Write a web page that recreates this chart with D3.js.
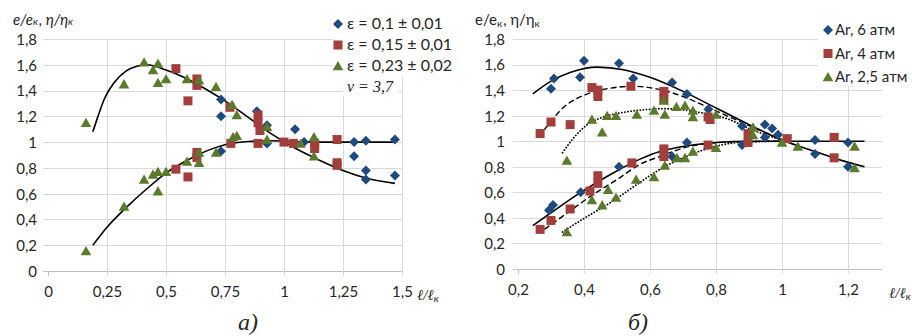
<!DOCTYPE html>
<html><head><meta charset="utf-8">
<script src="https://cdn.jsdelivr.net/npm/d3@7"></script>
<style>
body{margin:0;background:#fff}
svg{display:block}
text{font-family:Lato,"Open Sans","Liberation Sans",sans-serif;fill:#262626}
</style>
</head><body>
<svg id="c" width="912" height="336"></svg>
<script>
// ---------- tick labels ----------
const yTicks = [0,0.2,0.4,0.6,0.8,1,1.2,1.4,1.6,1.8];
const yLabels = ["0","0,2","0,4","0,6","0,8","1","1,2","1,4","1,6","1,8"];
const leftXTicks = [0,0.25,0.5,0.75,1,1.25,1.5];
const leftXLabels = ["0","0,25","0,5","0,75","1","1,25","1,5"];
const rightXTicks = [0.2,0.4,0.6,0.8,1,1.2];
const rightXLabels = ["0,2","0,4","0,6","0,8","1","1,2"];

// ---------- left chart (a) series ----------
const leftNames = ["ε = 0,1 ± 0,01","ε = 0,15 ± 0,01","ε = 0,23 ± 0,02"];
const leftEps010 = [[0.733,1.33],[0.733,1.20],[0.885,1.24],[0.928,1.13],[0.928,0.99],[1.047,1.10],[1.085,1.0],
  [1.297,1.0],[1.347,1.01],[1.297,0.89],[1.347,0.78],[1.347,0.71],[1.47,1.02],[1.47,0.74],[0.733,0.93]];
const leftEps015 = [[0.542,1.57],[0.631,1.49],[0.631,1.44],[0.593,1.32],[0.771,1.27],[0.89,1.21],[0.89,1.15],
  [0.898,1.09],[0.89,0.99],[0.775,0.99],[1.0,1.0],[1.04,0.99],[1.13,0.99],[1.13,0.95],[1.225,1.02],
  [1.225,0.84],[1.225,0.82],[0.631,0.92],[0.631,0.88],[0.542,0.79],[0.593,0.73]];
const leftEps023 = [[0.161,1.15],[0.161,0.155],[0.322,1.45],[0.322,0.50],[0.407,1.62],[0.407,0.71],[0.445,1.56],
  [0.445,0.75],[0.466,1.61],[0.466,1.46],[0.466,0.77],[0.466,0.62],[0.5,1.49],[0.5,0.77],[0.589,1.49],
  [0.589,0.85],[0.64,1.48],[0.64,0.92],[0.64,0.84],[0.712,1.43],[0.712,0.92],[0.78,1.29],[0.784,1.04],
  [0.80,1.21],[0.80,1.05],[0.928,1.12],[0.928,1.02],[1.07,0.99],[1.127,1.04],[1.127,0.89]];
// trend curves
const leftTrendUpper = [[0.19,1.08],[0.21,1.19],[0.24,1.34],[0.28,1.46],[0.33,1.55],[0.38,1.59],[0.42,1.60],
  [0.50,1.56],[0.58,1.50],[0.66,1.42],[0.75,1.32],[0.85,1.19],[0.95,1.06],[1.05,0.95],[1.15,0.86],[1.25,0.78],
  [1.35,0.72],[1.47,0.68]];
const leftTrendLower = [[0.19,0.20],[0.25,0.34],[0.33,0.49],[0.42,0.64],[0.50,0.76],[0.58,0.85],[0.67,0.93],
  [0.75,0.98],[0.85,1.005],[0.95,1.01],[1.1,1.0],[1.3,1.0],[1.47,1.0]];

// ---------- right chart (b) series ----------
const rightNames = ["Ar, 6 атм","Ar, 4 атм","Ar, 2,5 атм"];
const rightAr6 = [[0.30,1.41],[0.309,1.49],[0.40,1.63],[0.388,1.50],[0.506,1.61],[0.549,1.49],[0.667,1.46],
  [0.712,1.37],[0.777,1.25],[0.306,0.50],[0.294,0.46],[0.39,0.60],[0.506,0.80],[0.712,0.99],[0.879,0.97],
  [0.879,1.12],[0.948,1.13],[0.97,1.10],[0.948,1.03],[0.988,1.05],[1.1,1.01],[1.1,0.90],[1.2,0.99],[1.2,0.80],[0.667,0.88]];
const rightAr4 = [[0.267,1.06],[0.30,1.15],[0.358,1.13],[0.424,1.42],[0.442,1.40],[0.442,1.35],[0.542,1.43],
  [0.642,1.39],[0.642,1.33],[0.776,1.19],[0.782,1.17],[0.897,1.06],[0.897,0.99],[1.016,1.02],[1.158,1.03],
  [1.158,0.87],[0.642,0.94],[0.642,0.88],[0.776,0.97],[0.545,0.83],[0.442,0.73],[0.442,0.67],[0.418,0.61],
  [0.358,0.47],[0.30,0.38],[0.267,0.31]];
const rightAr25 = [[0.348,0.85],[0.424,1.17],[0.455,1.07],[0.47,1.20],[0.497,1.20],[0.56,1.21],[0.612,1.24],
  [0.642,1.32],[0.645,1.21],[0.68,1.27],[0.706,1.28],[0.73,1.24],[0.73,1.19],[0.80,1.21],[0.912,1.11],
  [0.912,1.05],[1.0,0.99],[1.048,0.96],[1.22,0.96],[1.22,0.79],[0.348,0.29],[0.424,0.54],[0.455,0.50],
  [0.473,0.62],[0.497,0.56],[0.558,0.70],[0.612,0.72],[0.645,0.81],[0.682,0.87],[0.706,0.87],[0.73,0.92],[0.80,0.95]];
const rightTrend6Upper = [[0.245,1.37],[0.30,1.47],[0.36,1.54],[0.44,1.58],[0.52,1.56],[0.60,1.50],[0.70,1.39],
  [0.80,1.26],[0.90,1.13],[1.0,1.01],[1.1,0.92],[1.18,0.85],[1.25,0.80]];
const rightTrend6Lower = [[0.245,0.34],[0.30,0.44],[0.39,0.60],[0.48,0.74],[0.57,0.86],[0.63,0.92],[0.69,0.955],
  [0.80,0.99],[0.9,1.0],[1.0,1.0],[1.25,1.0]];
const rightTrend4Upper = [[0.28,1.09],[0.34,1.27],[0.41,1.37],[0.48,1.415],[0.55,1.43],[0.62,1.41],[0.70,1.35],
  [0.78,1.26],[0.85,1.18],[0.92,1.10],[1.0,1.01]];
const rightTrend4Lower = [[0.28,0.31],[0.35,0.44],[0.42,0.57],[0.50,0.70],[0.57,0.82],[0.63,0.88],[0.72,0.96],
  [0.85,0.995],[1.0,1.0]];
const rightTrend25Upper = [[0.335,0.91],[0.37,1.03],[0.41,1.13],[0.46,1.19],[0.53,1.23],[0.60,1.25],[0.64,1.255],
  [0.68,1.25],[0.76,1.22],[0.84,1.17],[0.90,1.10],[0.95,1.05],[1.0,1.01]];
const rightTrend25Lower = [[0.335,0.29],[0.39,0.38],[0.48,0.52],[0.56,0.66],[0.63,0.78],[0.70,0.87],[0.76,0.93],
  [0.87,0.99],[1.0,1.0]];

// ---------- styles ----------
const colors = ["#1f4a7e","#a23f3c","#5b7a2b"];
const shapes = ["diamond","square","triangle"];
const gridColor = "#d9d9d9";

const svg = d3.select("#c");

function marker(g, shape, color, x, y){
  if(shape==="square"){
    g.append("rect").attr("x",x-4.5).attr("y",y-4.5).attr("width",9).attr("height",9).attr("fill",color);
  } else if(shape==="diamond"){
    g.append("path").attr("d",d3.symbol(d3.symbolSquare,50)())
      .attr("transform",`translate(${x},${y}) rotate(45)`).attr("fill",color);
  } else {
    g.append("path").attr("d",`M0,-5L5.3,4.3L-5.3,4.3Z`)
      .attr("transform",`translate(${x},${y})`).attr("fill",color);
  }
}

function drawChart(cfg){
  const g = svg.append("g");
  const x = d3.scaleLinear().domain(cfg.xDomain).range(cfg.xRange);
  const y = d3.scaleLinear().domain([0,1.8]).range(cfg.yRange);
  const [x0,x1] = cfg.xRange;
  g.selectAll(".hg").data(yTicks).join("line")
    .attr("x1",x0-5).attr("x2",cfg.gridRight)
    .attr("y1",d=>Math.round(y(d))+0.5).attr("y2",d=>Math.round(y(d))+0.5)
    .attr("stroke",d=>d===0?"#bfbfbf":gridColor).attr("stroke-width",1);
  g.selectAll(".vg").data(cfg.xTicks).join("line")
    .attr("x1",d=>Math.round(x(d))+0.5).attr("x2",d=>Math.round(x(d))+0.5)
    .attr("y1",d=>d===cfg.xDomain[0]?y(0):y(1.8)).attr("y2",y(0)+5)
    .attr("stroke",d=>d===cfg.xDomain[0]?"#bfbfbf":gridColor);
  cfg.boxes.forEach(b=>g.append("rect").attr("x",b[0]).attr("y",b[1]).attr("width",b[2]).attr("height",b[3]).attr("fill","#fff"));
  const ya = d3.axisLeft(y).tickValues(yTicks).tickFormat((d,i)=>yLabels[i]).tickSize(0).tickPadding(0);
  const yg = g.append("g").attr("transform",`translate(${cfg.yLabelX},0)`).call(ya);
  yg.select(".domain").remove();
  yg.selectAll("text").attr("font-family",null).attr("font-size",null).attr("dy","0.36em")
    .style("font-size","15px").style("fill","#262626");
  const xa = d3.axisBottom(x).tickValues(cfg.xTicks).tickFormat((d,i)=>cfg.xLabels[i]).tickSize(0).tickPadding(0);
  const xg = g.append("g").attr("transform",`translate(0,${cfg.xLabelY})`).call(xa);
  xg.select(".domain").remove();
  xg.selectAll("text").attr("font-family",null).attr("font-size",null).style("font-size","15px").style("fill","#262626");
  const line = d3.line().x(d=>x(d[0])).y(d=>y(d[1])).curve(d3.curveMonotoneX);
  cfg.trends.forEach(t=>{
    g.append("path").attr("d",line(t.pts)).attr("fill","none").attr("stroke","#000")
      .attr("stroke-width",t.w||1.6).attr("stroke-dasharray",t.dash||null).attr("stroke-linecap",t.cap||"butt");
  });
  cfg.series.forEach((s,i)=>{
    s.forEach(p=>marker(g, shapes[i], colors[i], x(p[0]), y(p[1])));
  });
  return {g,x,y};
}

const L = drawChart({
  xDomain:[0,1.5], xRange:[48,402], yRange:[271,39], gridRight:402,
  xTicks:leftXTicks, xLabels:leftXLabels, yLabelX:37, xLabelY:286,
  boxes:[[333,8,120,69],[343,77,55,19]],
  series:[leftEps010,leftEps015,leftEps023],
  trends:[{pts:leftTrendUpper},{pts:leftTrendLower}]
});
const R = drawChart({
  xDomain:[0.2,1.3], xRange:[518,881], yRange:[269,39], gridRight:882,
  xTicks:rightXTicks, xLabels:rightXLabels, yLabelX:505, xLabelY:284,
  boxes:[[818,8,94,78]],
  series:[rightAr6,rightAr4,rightAr25],
  trends:[{pts:rightTrend6Upper},{pts:rightTrend6Lower},
    {pts:rightTrend4Upper,dash:"6,3",w:1.4},{pts:rightTrend4Lower,dash:"6,3",w:1.4},
    {pts:rightTrend25Upper,dash:"0.1,3",w:1.8,cap:"round"},{pts:rightTrend25Lower,dash:"0.1,3",w:1.8,cap:"round"}]
});

leftNames.forEach((n,i)=>{
  const yy = 24 + i*21;
  marker(svg, shapes[i], colors[i], 338, yy);
  svg.append("text").attr("x",347).attr("y",yy+5).style("font-size","16px").text(n);
});
svg.append("text").attr("x",347).attr("y",92).style("font-size","16px").style("font-style","italic")
  .style("font-family","'Liberation Serif',serif").text("ν = 3,7");
rightNames.forEach((n,i)=>{
  const yy = 30 + i*23.5;
  marker(svg, shapes[i], colors[i], 828, yy);
  svg.append("text").attr("x",835).attr("y",yy+5).style("font-size","15px").text(n);
});

// composite title made of separate text pieces placed side by side
function composite(x0, y0, parts, italic, family){
  let cx = x0;
  parts.forEach(p=>{
    const t = svg.append("text").attr("x",cx).attr("y",y0+(p.dy||0))
      .style("font-size",p.size+"px").style("font-style",italic?"italic":"normal")
      .style("font-family",p.family||family||null).text(p.t);
    cx += t.node().getComputedTextLength() + (p.gap||0);
  });
}
composite(13,25,[{t:"e/e",size:15},{t:"к",size:10,gap:1},{t:", η/η",size:15},{t:"к",size:10}],true);
composite(475,25,[{t:"e/e",size:15},{t:"к",size:10,dy:2,gap:1},{t:", η/η",size:15},{t:"к",size:10,dy:2}],false);
composite(417,300,[{t:"ℓ/ℓ",size:15,family:"'Liberation Serif',serif"},{t:"к",size:10,dy:2,family:"Lato,sans-serif"}],true);
composite(889,298,[{t:"ℓ/ℓ",size:15,family:"'Liberation Serif',serif"},{t:"к",size:10,dy:2,family:"Lato,sans-serif"}],true);

svg.append("text").attr("x",238).attr("y",330).style("font-size","24px").style("font-style","italic")
  .style("font-family","'Liberation Serif',serif").text("а)");
svg.append("text").attr("x",628).attr("y",330).style("font-size","24px").style("font-style","italic")
  .style("font-family","'Liberation Serif',serif").text("б)");
</script>
</body></html>
